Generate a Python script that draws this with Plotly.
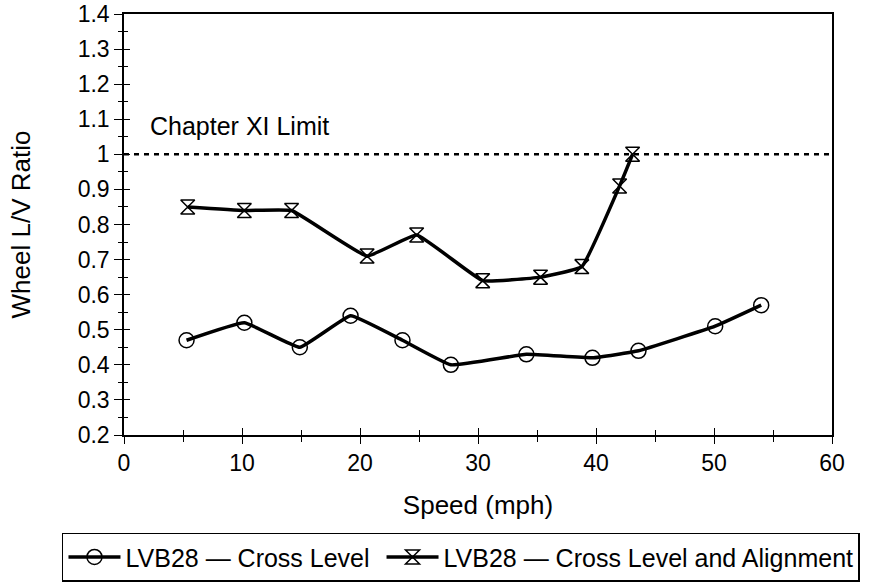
import plotly.graph_objects as go

# Data
speed_cl = [5.3, 10.2, 14.9, 19.2, 23.6, 27.7, 34.1, 39.7, 43.6, 50.1, 54.0]
lv_cl = [0.47, 0.52, 0.45, 0.54, 0.47, 0.40, 0.43, 0.42, 0.44, 0.51, 0.57]
speed_cla = [5.4, 10.2, 14.2, 20.6, 24.8, 30.4, 35.3, 38.8, 42.0, 43.1]
lv_cla = [0.85, 0.84, 0.84, 0.71, 0.77, 0.64, 0.65, 0.68, 0.91, 1.00]
limit_x = [0, 60]
limit_y = [1.0, 1.0]
name_cl = "LVB28 — Cross Level\u00a0"
name_cla = "LVB28 — Cross Level and Alignment"
x_ticks = [0, 10, 20, 30, 40, 50, 60]
y_ticks = [0.2, 0.3, 0.4, 0.5, 0.6, 0.7, 0.8, 0.9, 1.0, 1.1, 1.2, 1.3, 1.4]
y_ticktext = ["0.2", "0.3", "0.4", "0.5", "0.6", "0.7", "0.8", "0.9", "1", "1.1", "1.2", "1.3", "1.4"]

FONT = "Liberation Sans, Arial, sans-serif"

fig = go.Figure()
fig.add_trace(go.Scatter(x=limit_x, y=limit_y, mode="lines",
                         line=dict(color="black", width=2.5, dash="5px,5px"),
                         showlegend=False, hoverinfo="skip"))
fig.add_trace(go.Scatter(x=speed_cl, y=lv_cl, mode="lines+markers", name=name_cl,
                         line=dict(color="black", width=3.5, shape="spline", smoothing=0.3),
                         marker=dict(symbol="circle-open", size=15, color="black",
                                     line=dict(width=1.5, color="black"))))
fig.add_trace(go.Scatter(x=speed_cla, y=lv_cla, mode="lines+markers", name=name_cla,
                         line=dict(color="black", width=3.5, shape="spline", smoothing=0.3),
                         marker=dict(symbol="hourglass-open", size=14, color="black",
                                     line=dict(width=1.5, color="black"))))
# empty trace for the overlay axes (inner half of the crossing ticks)
fig.add_trace(go.Scatter(x=[None], y=[None], xaxis="x2", yaxis="y2",
                         showlegend=False, hoverinfo="skip"))

fig.add_annotation(x=2, y=1.08, xref="x", yref="y", text="Chapter XI Limit",
                   showarrow=False, xanchor="left", yanchor="middle",
                   font=dict(family=FONT, size=25, color="black"))

axis_common = dict(showgrid=False, zeroline=False, linecolor="black", linewidth=1.5,
                   tickcolor="black", tickwidth=1.2, automargin=False)

fig.update_layout(
    width=869, height=588,
    margin=dict(l=124, r=37, t=14, b=153, autoexpand=False),
    paper_bgcolor="white", plot_bgcolor="white",
    font=dict(family=FONT, size=23, color="black"),
    showlegend=True,
    legend=dict(orientation="h", x=-0.0876, xanchor="left", y=-0.232, yanchor="top",
                bordercolor="black", borderwidth=1.5, bgcolor="white",
                font=dict(family=FONT, size=25, color="black"),
                itemwidth=52),
    xaxis=dict(range=[0, 60], tickvals=x_ticks, ticks="outside", ticklen=7,
               mirror=True, showline=True,
               minor=dict(dtick=5, tick0=0, ticks="outside", ticklen=5, tickcolor="black", tickwidth=1.2),
               title=dict(text="Speed (mph)", font=dict(size=26), standoff=20),
               tickfont=dict(size=23), **axis_common),
    yaxis=dict(range=[0.2, 1.4], tickvals=y_ticks, ticktext=y_ticktext, ticks="outside", ticklen=8,
               mirror=True, showline=True,
               minor=dict(dtick=0.05, tick0=0.2, ticks="outside", ticklen=4, tickcolor="black", tickwidth=1.2),
               title=dict(text="Wheel L/V Ratio", font=dict(size=26), standoff=40),
               tickfont=dict(size=23), **axis_common),
    xaxis2=dict(range=[0, 60], overlaying="x", anchor="y2", side="bottom",
                tickvals=x_ticks, ticks="inside", ticklen=7, showticklabels=False,
                showline=False, showgrid=False, zeroline=False, tickcolor="black", tickwidth=1.2,
                minor=dict(dtick=5, tick0=0, ticks="inside", ticklen=5, tickcolor="black", tickwidth=1.2)),
    yaxis2=dict(range=[0.2, 1.4], overlaying="y", anchor="x2", side="left",
                tickvals=y_ticks, ticks="inside", ticklen=6, showticklabels=False,
                showline=False, showgrid=False, zeroline=False, tickcolor="black", tickwidth=1.2,
                minor=dict(dtick=0.05, tick0=0.2, ticks="inside", ticklen=4, tickcolor="black", tickwidth=1.2)),
)

fig.write_html("out.html")
